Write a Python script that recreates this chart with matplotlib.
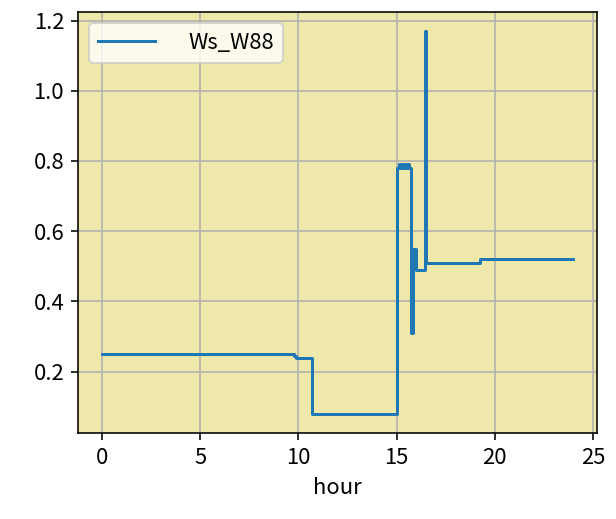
import matplotlib
matplotlib.use("Agg")
import matplotlib.pyplot as plt

plt.rcParams['font.family'] = ['Noto Sans CJK SC', 'DejaVu Sans']
plt.rcParams['font.size'] = 11
plt.rcParams['axes.unicode_minus'] = False

# step change points (hour, wind speed), held until the next point
hours = [0.0, 9.80, 9.86, 10.72, 15.02, 15.12, 15.22, 15.32, 15.42,
         15.52, 15.62, 15.74, 15.82, 15.98, 16.44, 16.50, 19.25, 24.0]
ws_w88 = [0.25, 0.245, 0.24, 0.08, 0.78, 0.79, 0.78, 0.79, 0.78,
          0.79, 0.78, 0.31, 0.55, 0.49, 1.17, 0.51, 0.52, 0.52]

fig = plt.figure(figsize=(6.16 / 1.44, 5.19 / 1.44), dpi=144)
ax = fig.add_axes([0.127, 0.166, 0.842, 0.811])
ax.set_facecolor('palegoldenrod')

ax.plot(hours, ws_w88, drawstyle='steps-post', color='#1f77b4', lw=1.5,
        label='Ws_W88')
ax.grid(True, color='#b0b0b0', lw=0.8)
ax.set_axisbelow(True)
ax.set_xlabel('hour')
ax.set_xticks([0, 5, 10, 15, 20, 25])
ax.set_yticks([0.2, 0.4, 0.6, 0.8, 1.0, 1.2])
ax.legend(loc='upper left', handlelength=2.6, handletextpad=1.5)

fig.savefig('out.png', dpi=144)
